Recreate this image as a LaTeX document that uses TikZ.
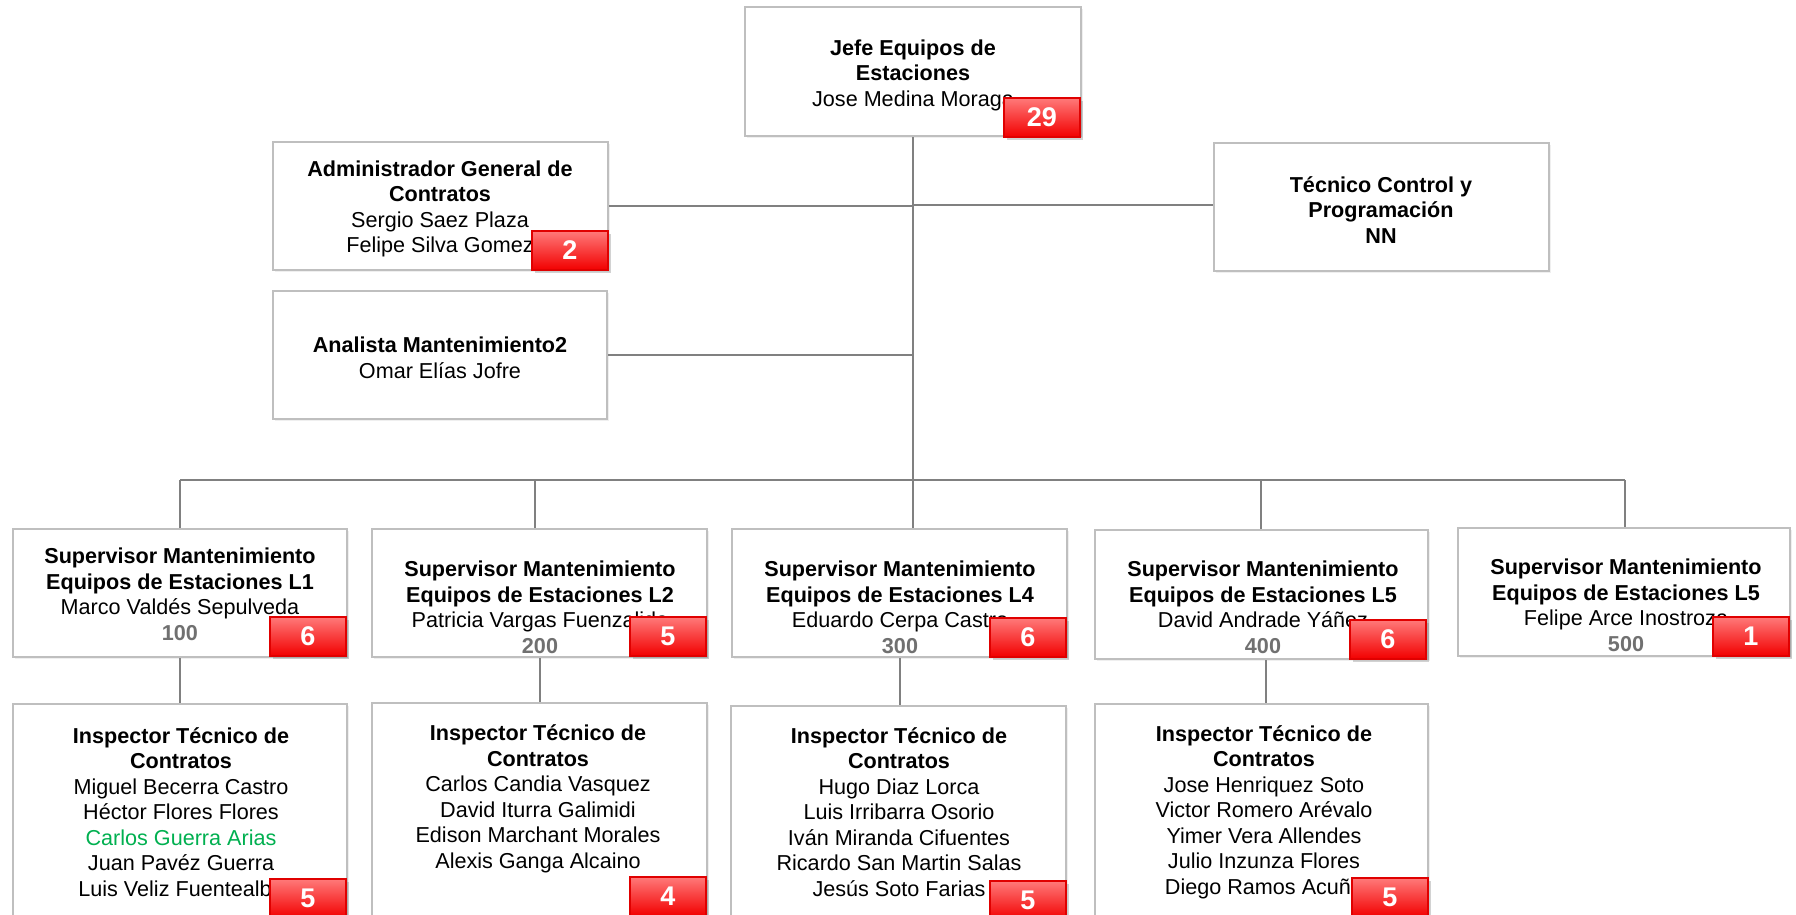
\documentclass[tikz,border=0pt]{standalone}
\usepackage{fontspec}
\setmainfont{Liberation Sans}
\usetikzlibrary{fit,shadows,calc,backgrounds}
\definecolor{boxgray}{HTML}{BFBFBF}
\definecolor{conngray}{HTML}{808080}
\definecolor{numgray}{HTML}{707070}
\definecolor{badgetop}{HTML}{FF7A7A}
\definecolor{badgebot}{HTML}{F20000}
\definecolor{badgeline}{HTML}{E00000}
\definecolor{namegreen}{HTML}{00B050}
\tikzset{
  orgbox/.style={draw=boxgray, line width=0.6pt, fill=white, inner sep=0pt,
    drop shadow={opacity=0.12, shadow xshift=1.2pt, shadow yshift=-1.2pt}},
  txt/.style={align=center, inner sep=0pt, font=\fontsize{10.8}{12.75}\selectfont},
  badge/.style={draw=badgeline, line width=0.8pt, top color=badgetop, bottom color=badgebot,
    minimum width=38pt, minimum height=19.5pt, inner sep=0pt, text=white,
    font=\fontsize{13.5}{15}\selectfont\bfseries, anchor=south east,
    drop shadow={opacity=0.35, shadow xshift=1.5pt, shadow yshift=-1.5pt}},
  conn/.style={draw=conngray, line width=1pt}
}
\begin{document}
\begin{tikzpicture}[x=0.5pt,y=-0.5pt]
\useasboundingbox (0,0) rectangle (1796,915);
% boxes
\node[orgbox, fit={(745,7) (1081,136)}] (top) {};
\node[orgbox, fit={(273,142) (608,270)}] (admin) {};
\node[orgbox, fit={(1214,143) (1549,271)}] (tec) {};
\node[orgbox, fit={(273,291) (607,419)}] (ana) {};
\node[orgbox, fit={(13,529) (347,657)}] (s1) {};
\node[orgbox, fit={(372,529) (707,657)}] (s2) {};
\node[orgbox, fit={(732,529) (1067,657)}] (s4) {};
\node[orgbox, fit={(1095,530) (1428,659)}] (s5) {};
\node[orgbox, fit={(1458,528) (1790,656)}] (s6) {};
\node[orgbox, fit={(13,704) (347,922)}] (i1) {};
\node[orgbox, fit={(372,703) (707,922)}] (i2) {};
\node[orgbox, fit={(731,706) (1066,922)}] (i4) {};
\node[orgbox, fit={(1095,704) (1428,922)}] (i5) {};
% connector junctions
\coordinate (bus) at (913,480);
\coordinate (busL) at (180,480);
\coordinate (bus2) at (535,480);
\coordinate (bus5) at (1261,480);
\coordinate (busR) at (1625,480);
\coordinate (tecj) at (913,205);
\begin{pgfonlayer}{background}
\fill[white] (0,0) rectangle (1796,915);
\draw[conn] (top.south) -- (bus);
\draw[conn] (admin.east) -- (admin.east -| bus);
\draw[conn] (tecj) -- (tecj -| tec.west);
\draw[conn] (ana.east) -- (ana.east -| bus);
\draw[conn] (busL) -- (busR);
\draw[conn] (busL) -- (busL |- s1.north);
\draw[conn] (bus2) -- (bus2 |- s2.north);
\draw[conn] (bus) -- (bus |- s4.north);
\draw[conn] (bus5) -- (bus5 |- s5.north);
\draw[conn] (busR) -- (busR |- s6.north);
\draw[conn] (s1.south) -- (s1.south |- i1.north);
\draw[conn] (s2.south) -- (s2.south |- i2.north);
\draw[conn] (s4.south) -- (s4.south |- i4.north);
\draw[conn] ($(s5.south)+(4,0)$) -- ($(s5.south |- i5.north)+(4,0)$);
\end{pgfonlayer}
% texts
\node[txt] (ttop) at (913,75) {\textbf{Jefe Equipos de}\\\textbf{Estaciones}\\Jose Medina Moraga};
\node[txt] (tadmin) at (440,209) {\textbf{Administrador General de}\\\textbf{Contratos}\\Sergio Saez Plaza\\Felipe Silva Gomez};
\node[txt] (ttec) at (1381,210) {\textbf{Técnico Control y}\\\textbf{Programación}\\\textbf{NN}};
\node[txt] (tana) at (440,358) {\textbf{Analista Mantenimiento2}\\Omar Elías Jofre};
\node[txt] (ts1) at (180,594.5) {\textbf{Supervisor Mantenimiento}\\\textbf{Equipos de Estaciones L1}\\Marco Valdés Sepulveda\\\textcolor{numgray}{\textbf{100}}};
\node[txt] (ts2) at (540,607.5) {\textbf{Supervisor Mantenimiento}\\\textbf{Equipos de Estaciones L2}\\Patricia Vargas Fuenzalida\\\textcolor{numgray}{\textbf{200}}};
\node[txt] (ts4) at (900,607.5) {\textbf{Supervisor Mantenimiento}\\\textbf{Equipos de Estaciones L4}\\Eduardo Cerpa Castro\\\textcolor{numgray}{\textbf{300}}};
\node[txt] (ts5) at (1263,607.5) {\textbf{Supervisor Mantenimiento}\\\textbf{Equipos de Estaciones L5}\\David Andrade Yáñez\\\textcolor{numgray}{\textbf{400}}};
\node[txt] (ts6) at (1626,605.5) {\textbf{Supervisor Mantenimiento}\\\textbf{Equipos de Estaciones L5}\\Felipe Arce Inostroza\\\textcolor{numgray}{\textbf{500}}};
\node[txt] (ti1) at (181,812) {\textbf{Inspector Técnico de}\\\textbf{Contratos}\\Miguel Becerra Castro\\Héctor Flores Flores\\\textcolor{namegreen}{Carlos Guerra Arias}\\Juan Pavéz Guerra\\Luis Veliz Fuentealba};
\node[txt] (ti2) at (538,799) {\textbf{Inspector Técnico de}\\\textbf{Contratos}\\Carlos Candia Vasquez\\David Iturra Galimidi\\Edison Marchant Morales\\Alexis Ganga Alcaino};
\node[txt] (ti4) at (899,812) {\textbf{Inspector Técnico de}\\\textbf{Contratos}\\Hugo Diaz Lorca\\Luis Irribarra Osorio\\Iván Miranda Cifuentes\\Ricardo San Martin Salas\\Jesús Soto Farias};
\node[txt] (ti5) at (1264,812) {\textbf{Inspector Técnico de}\\\textbf{Contratos}\\Jose Henriquez Soto\\Victor Romero Arévalo\\Yimer Vera Allendes\\Julio Inzunza Flores\\Diego Ramos Acuña};
% badges
\node[badge] (btop) at ($(top.south east)+(-1,1)$) {29};
\node[badge] (badmin) at ($(admin.south east)+(0,0)$) {2};
\node[badge] (bs1) at ($(s1.south east)+(-1,-1)$) {6};
\node[badge] (bs2) at ($(s2.south east)+(-1,-1)$) {5};
\node[badge] (bs4) at ($(s4.south east)+(-1,0)$) {6};
\node[badge] (bs5) at ($(s5.south east)+(-2,0)$) {6};
\node[badge] (bs6) at ($(s6.south east)+(-1,0)$) {1};
\node[badge] (bi1) at ($(i1.south east)+(-1,-4)$) {5};
\node[badge] (bi2) at ($(i2.south east)+(-1,-6)$) {4};
\node[badge] (bi4) at ($(i4.south east)+(0,-2)$) {5};
\node[badge] (bi5) at ($(i5.south east)+(0,-5)$) {5};
\end{tikzpicture}
\end{document}
